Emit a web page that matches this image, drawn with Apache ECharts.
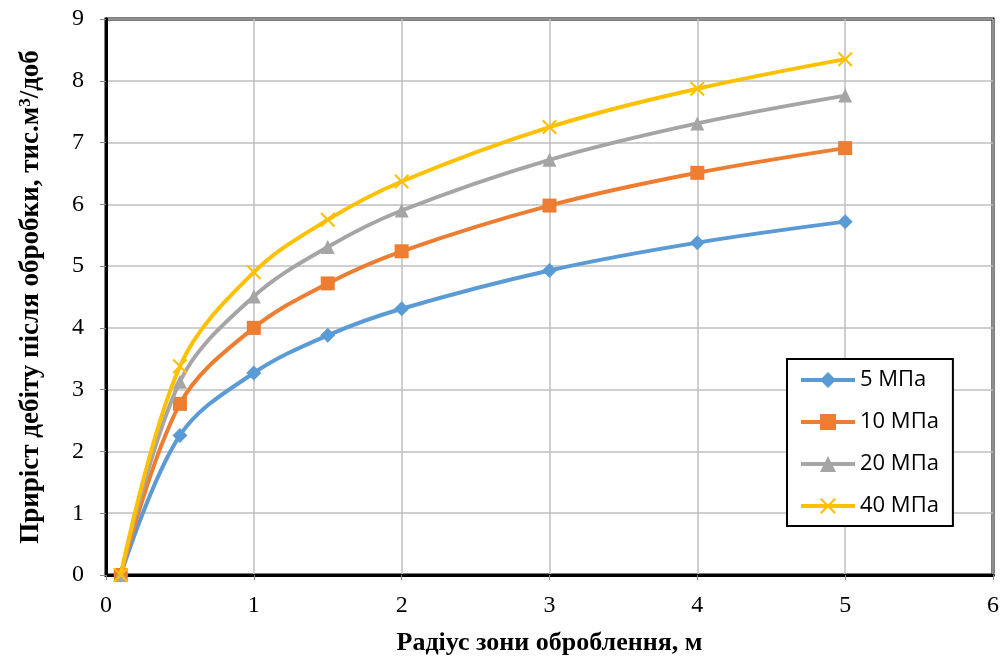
<!DOCTYPE html>
<html>
<head>
<meta charset="utf-8">
<script src="https://cdn.jsdelivr.net/npm/echarts@6/dist/echarts.min.js"></script>
<style>html,body{margin:0;padding:0;background:#fff}#c{width:1005px;height:661px}</style>
</head>
<body>
<div id="c"></div>
<script>
var radius = [0.1, 0.5, 1, 1.5, 2, 3, 4, 5];
var s5 = [0, 2.26, 3.27, 3.88, 4.31, 4.93, 5.38, 5.72];
var s10 = [0, 2.77, 4.00, 4.72, 5.24, 5.98, 6.51, 6.91];
var s20 = [0, 3.13, 4.51, 5.31, 5.90, 6.72, 7.31, 7.76];
var s40 = [0, 3.38, 4.90, 5.75, 6.37, 7.25, 7.87, 8.35];
var seriesNames = ['5 МПа', '10 МПа', '20 МПа', '40 МПа'];
var xTitle = 'Радіус зони оброблення, м';

function pairs(ys){ return radius.map(function(x,i){ return [x, ys[i]]; }); }
var colors = ['#5b9bd5', '#ed7d31', '#a5a5a5', '#ffc000'];
var crossPath = 'path://M0,1 L1,0 L5,4 L9,0 L10,1 L6,5 L10,9 L9,10 L5,6 L1,10 L0,9 L4,5 Z';
var symbols = ['diamond', 'rect', 'triangle', crossPath];
var sizes = [15, 14, 14, 15];
var data = [s5, s10, s20, s40];

var chart = echarts.init(document.getElementById('c'), null, {renderer: 'canvas'});
var serif = '"Liberation Serif", "Times New Roman", serif';
chart.setOption({
  animation: false,
  backgroundColor: '#fff',
  grid: {left: 106, top: 19, right: 12, bottom: 84, show: true, borderColor: '#000', borderWidth: 3, backgroundColor: 'transparent'},
  xAxis: {
    type: 'value', min: 0, max: 6, interval: 1,
    name: xTitle, nameLocation: 'middle', nameGap: 55,
    nameTextStyle: {fontFamily: serif, fontWeight: 'bold', fontSize: 26, color: '#000'},
    axisLine: {show: true, onZero: false, lineStyle: {color: '#000', width: 3}},
    axisTick: {show: true, length: 5, lineStyle: {color: '#888', width: 1}},
    axisLabel: {fontFamily: serif, fontSize: 24, color: '#000', margin: 19},
    splitLine: {show: true, lineStyle: {color: '#bfbfbf', width: 1.5}}
  },
  yAxis: {
    type: 'value', min: 0, max: 9, interval: 1,
    name: 'Приріст дебіту після обробки, тис.м{sup|3}/доб', nameLocation: 'middle', nameGap: 60, nameRotate: 90,
    nameTextStyle: {fontFamily: serif, fontWeight: 'bold', fontSize: 27, color: '#000',
      rich: {sup: {fontFamily: serif, fontWeight: 'bold', fontSize: 17, color: '#000', verticalAlign: 'top', padding: [0,0,12,0]}}},
    axisLine: {show: true, onZero: false, lineStyle: {color: '#000', width: 3}},
    axisTick: {show: true, length: 6, lineStyle: {color: '#888', width: 1}},
    axisLabel: {fontFamily: serif, fontSize: 24, color: '#000', margin: 22},
    splitLine: {show: true, lineStyle: {color: '#bfbfbf', width: 1.5}}
  },
  legend: {
    left: 787, top: 359, orient: 'vertical',
    backgroundColor: '#fff', borderColor: '#000', borderWidth: 2,
    padding: [10, 14, 9, 12], itemGap: 20, itemWidth: 54, itemHeight: 20,
    lineStyle: {width: 4},
    textStyle: {fontFamily: '"Open Sans", "Liberation Sans", sans-serif', fontSize: 22, color: '#000', lineHeight: 22},
    data: seriesNames
  },
  series: data.map(function(d, i){
    return {
      name: seriesNames[i], type: 'line', data: pairs(d), smooth: 0.35,
      symbol: symbols[i], symbolSize: sizes[i], showAllSymbol: true,
      lineStyle: {color: colors[i], width: 4},
      itemStyle: {color: colors[i]},
      z: 3 + i
    };
  })
});
</script>
</body>
</html>
